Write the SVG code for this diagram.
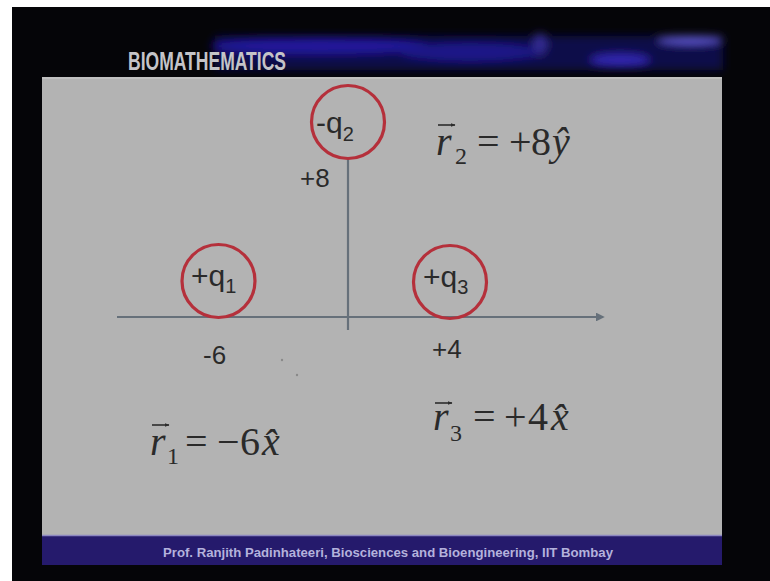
<svg xmlns="http://www.w3.org/2000/svg" width="770" height="581" viewBox="0 0 770 581">
  <defs>
    <filter id="blur" x="-20%" y="-50%" width="140%" height="200%">
      <feGaussianBlur stdDeviation="4"/>
    </filter>
    <marker id="axhead" viewBox="0 0 10 10" refX="8" refY="5" markerWidth="4" markerHeight="4" orient="auto">
      <path d="M0,0 L10,5 L0,10 z" fill="#66707a"/>
    </marker>
    <marker id="vechead" viewBox="0 0 10 10" refX="9" refY="5" markerWidth="5" markerHeight="5" orient="auto" markerUnits="userSpaceOnUse">
      <path d="M0,1 L10,5 L0,9 z" fill="#2c2c2c"/>
    </marker>
  </defs>
  <style>
    .charge { fill: none; stroke: #b5303b; stroke-width: 3.2; }
    .qlbl { font-family: "Liberation Sans", Arial, sans-serif; font-size: 30px; fill: #2a2a2a; }
    .sub { font-size: 20px; }
    .num { font-family: "Liberation Sans", Arial, sans-serif; font-size: 26px; fill: #2a2a2a; }
    .eq { font-family: "Liberation Serif", "Times New Roman", serif; font-size: 40px; fill: #2a2a2a; }
    .it { font-style: italic; }
    .esub { font-size: 24px; }
    .axis { stroke: #66707a; stroke-width: 2.2; fill: none; }
    .vec { stroke: #2c2c2c; stroke-width: 1.6; fill: none; }
  </style>

  <!-- frame -->
  <rect x="0" y="0" width="770" height="581" fill="#ffffff"/>
  <rect x="12" y="7" width="758" height="574" fill="#050508"/>

  <!-- header glow -->
  <g id="header" filter="url(#blur)">
    <rect x="215" y="36" width="508" height="34" fill="#0e0848"/>
    <ellipse cx="320" cy="46" rx="110" ry="8" fill="#22189a"/>
    <ellipse cx="470" cy="52" rx="70" ry="9" fill="#1e1488"/>
    <ellipse cx="620" cy="60" rx="30" ry="6" fill="#3226b0"/>
    <ellipse cx="690" cy="40" rx="32" ry="4" fill="#5c54d0"/>
    <ellipse cx="540" cy="44" rx="7" ry="11" fill="#302a90"/>
  </g>
  <text x="128" y="70" font-family="'Liberation Sans', Arial, sans-serif" font-weight="bold" font-size="25" fill="#c4c4c8" textLength="158" lengthAdjust="spacingAndGlyphs">BIOMATHEMATICS</text>

  <!-- slide body -->
  <rect x="42" y="77" width="680" height="458" fill="#b3b3b3"/>
  <line x1="42" y1="78" x2="722" y2="78" stroke="#c4c4c4" stroke-width="1.5"/>

  <!-- footer -->
  <rect x="42" y="535" width="680" height="30" fill="#251a6c"/>
  <line x1="42" y1="535.5" x2="722" y2="535.5" stroke="#8c86c0" stroke-width="1.5"/>
  <text x="163" y="557" font-family="'Liberation Sans', Arial, sans-serif" font-weight="bold" font-size="13" fill="#b4b2dc" textLength="450" lengthAdjust="spacingAndGlyphs">Prof. Ranjith Padinhateeri, Biosciences and Bioengineering, IIT Bombay</text>

  <!-- connectors: axes -->
  <g id="connectors">
    <line id="x-axis" class="axis" x1="117" y1="317" x2="603" y2="317" marker-end="url(#axhead)"/>
    <line id="y-axis" class="axis" x1="348" y1="330" x2="348" y2="158"/>
  </g>

  <!-- charges -->
  <g id="q1">
    <circle class="charge" cx="218.5" cy="281" r="36.5"/>
    <text class="qlbl" x="191" y="286">+q<tspan class="sub" dy="7">1</tspan></text>
  </g>
  <g id="q2">
    <circle class="charge" cx="348" cy="122" r="36.5"/>
    <text class="qlbl" x="316" y="133">-q<tspan class="sub" dy="8">2</tspan></text>
  </g>
  <g id="q3">
    <circle class="charge" cx="450" cy="282" r="36.5"/>
    <text class="qlbl" x="423" y="287">+q<tspan class="sub" dy="7">3</tspan></text>
  </g>

  <!-- axis labels -->
  <g id="labels">
    <text class="num" x="300" y="187">+8</text>
    <text class="num" x="203" y="364">-6</text>
    <text class="num" x="432" y="358">+4</text>
  </g>

  <!-- equations -->
  <g id="eq-r2">
    <text class="eq" y="155"><tspan class="it" x="436">r</tspan><tspan class="esub" x="455" y="164">2</tspan><tspan x="477" y="155">=</tspan><tspan x="509">+</tspan><tspan x="531">8</tspan><tspan class="it" x="552">ŷ</tspan></text>
    <line class="vec" x1="438" y1="125" x2="455" y2="125" marker-end="url(#vechead)"/>
  </g>
  <g id="eq-r1">
    <text class="eq" y="455"><tspan class="it" x="150">r</tspan><tspan class="esub" x="167" y="464">1</tspan><tspan x="185" y="455">=</tspan><tspan x="217">−</tspan><tspan x="240">6</tspan><tspan class="it" x="262">x̂</tspan></text>
    <line class="vec" x1="152" y1="425" x2="169" y2="425" marker-end="url(#vechead)"/>
  </g>
  <g id="eq-r3">
    <text class="eq" y="430"><tspan class="it" x="433">r</tspan><tspan class="esub" x="450" y="441">3</tspan><tspan x="473" y="430">=</tspan><tspan x="504">+</tspan><tspan x="528">4</tspan><tspan class="it" x="551">x̂</tspan></text>
    <line class="vec" x1="435" y1="403" x2="452" y2="403" marker-end="url(#vechead)"/>
  </g>

  <!-- faint stray marks -->
  <circle cx="282" cy="360" r="1.2" fill="#8a8a8a"/>
  <circle cx="297" cy="375" r="1.2" fill="#8a8a8a"/>
</svg>
